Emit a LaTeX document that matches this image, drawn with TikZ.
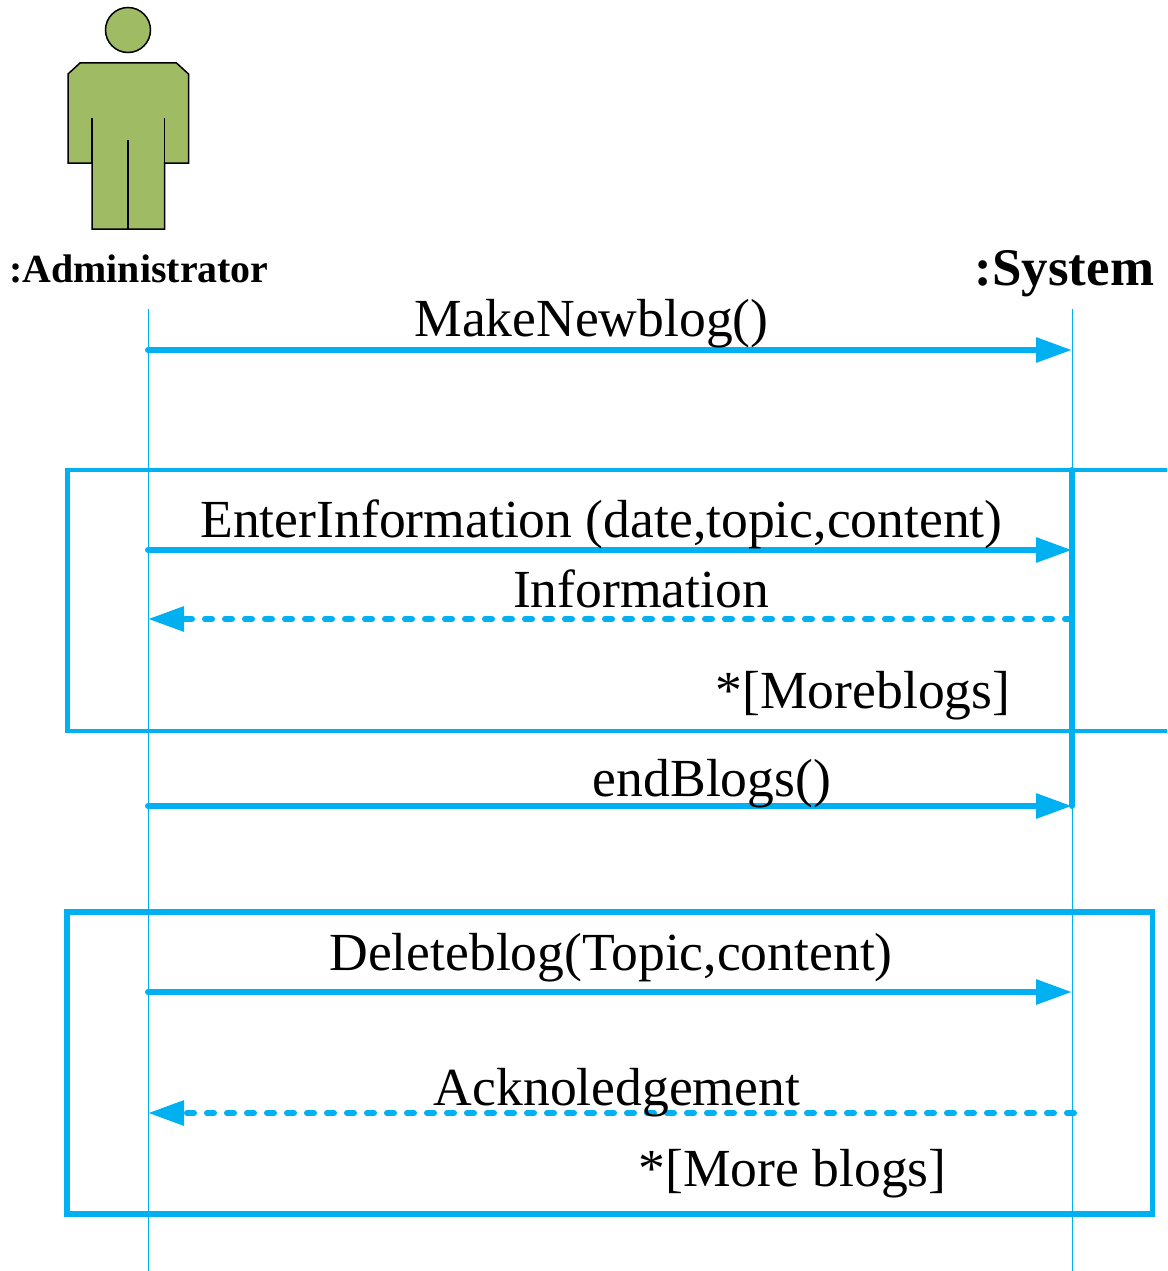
\documentclass[tikz,border=0pt]{standalone}
\usepackage{fontspec}
\setmainfont{Liberation Serif}
\usetikzlibrary{arrows.meta}
\definecolor{msgblue}{HTML}{00B0F0}
\definecolor{actorgreen}{HTML}{9FBC64}
\tikzset{>={Triangle[length=36pt,width=24pt]}}
\tikzset{
    lifeline/.style={draw=msgblue, line width=1pt},
    msg/.style={draw=msgblue, line width=6pt, line cap=round, ->},
    reply/.style={draw=msgblue, line width=6pt, line cap=round, dash pattern=on 7pt off 13pt, ->},
    frame/.style={draw=msgblue, line join=miter},
    msglabel/.style={anchor=base, inner sep=0pt, font=\fontsize{53.6}{60}\selectfont},
    actorpart/.style={draw=black, line width=1.5pt, fill=actorgreen}
}

\begin{document}
\begin{tikzpicture}[x=1pt, y=-1pt]
    \useasboundingbox (0, 0) rectangle (1167, 1271);
    % actor
    \begin{scope}
        \draw[actorpart](128, 30)circle(22.5pt);
        \draw[actorpart](80, 63)--(176.5, 63)--(188.5, 74)--(188.5, 163)--(164.5, 163)--(164.5, 229)--(92, 229)--(92, 163)--(68, 163)--(68, 74)--cycle;
        \draw[line width=1.5pt](92, 118)--(92, 163);
        \draw[line width=1.5pt](164.5, 118)--(164.5, 163);
        \draw[line width=1.5pt](128, 140)--(128, 229);
    \end{scope}
    \node[msglabel, font=\fontsize{39.9}{46}\selectfont\bfseries] (admin) at (139, 282) {:Administrator};
    \node[msglabel, font=\fontsize{52.9}{60}\selectfont\bfseries] (system) at (1064.5, 285.5) {:System};
    % lifelines
    \coordinate (admintop) at (148, 309);
    \coordinate (adminend) at (148, 1271);
    \coordinate (systop) at (1072, 309);
    \coordinate (sysend) at (1072, 1271);
    \draw[lifeline](admintop)--(adminend);
    \draw[lifeline](systop)--(sysend);
    % first frame, open on the right, and the activation bar
    \coordinate (barA) at (1072, 470);
    \coordinate (barB) at (1072, 806);
    \draw[frame, line width=4.5pt](1167, 470)--(67.5, 470)--(67.5, 731)--(1167, 731);
    \draw[draw=msgblue, line width=6pt, line cap=round](barA)--(barB);
    % second frame
    \draw[frame, line width=5.5pt](67, 912)rectangle(1152.5, 1214);
    % messages
    \coordinate (a1) at (148, 350);
    \coordinate (s1) at (1072, 350);
    \coordinate (a2) at (148, 550);
    \coordinate (s2) at (1072, 550);
    \coordinate (s3) at (1072, 619);
    \coordinate (a3) at (148, 619);
    \coordinate (a4) at (148, 806);
    \coordinate (s4) at (1072, 806);
    \coordinate (a5) at (148, 992);
    \coordinate (s5) at (1072, 992);
    \coordinate (s6) at (1074, 1113);
    \coordinate (a6) at (148, 1113);
    \draw[msg](a1)--(s1);
    \draw[msg](a2)--(s2);
    \draw[reply](s3)--(a3);
    \draw[msg](a4)--(s4);
    \draw[msg](a5)--(s5);
    \draw[reply](s6)--(a6);
    % labels
    \node[msglabel] (makenew) at (591.5, 336) {MakeNewblog()};
    \node[msglabel] (enterinfo) at (601.5, 537) {EnterInformation (date,topic,content)};
    \node[msglabel] (info) at (641, 607.5) {Information};
    \node[msglabel] (moreA) at (863, 708) {*[Moreblogs]};
    \node[msglabel] (endblogs) at (712, 796.5) {endBlogs()};
    \node[msglabel] (delete) at (611, 970) {Deleteblog(Topic,content)};
    \node[msglabel] (ack) at (617, 1105) {Acknoledgement};
    \node[msglabel] (moreB) at (792.5, 1186) {*[More blogs]};
\end{tikzpicture}
\end{document}
